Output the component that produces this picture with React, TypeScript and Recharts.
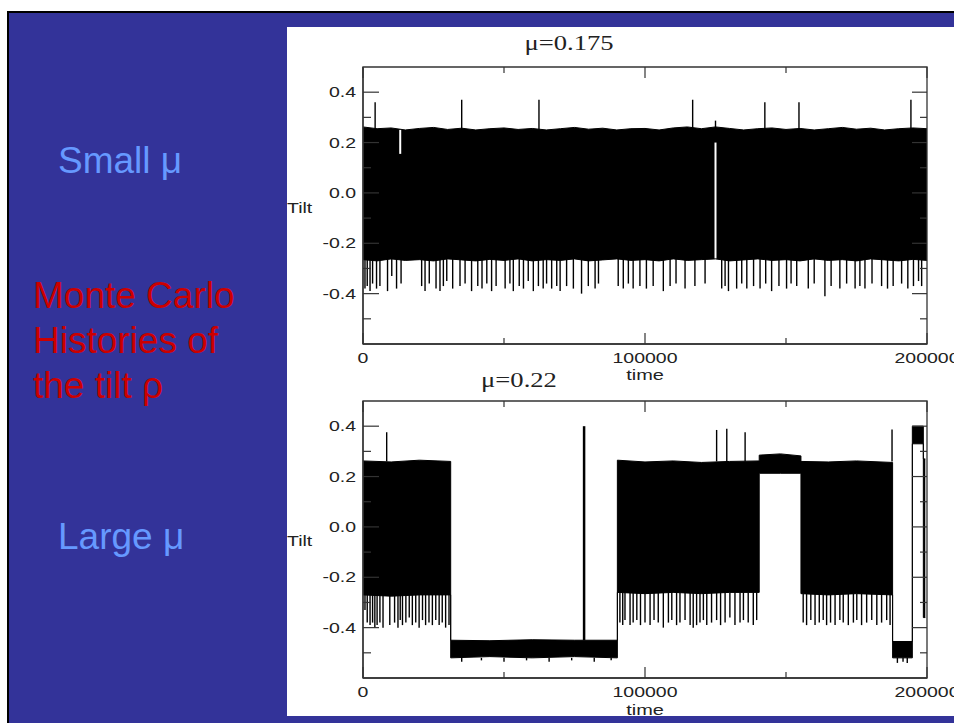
import { ComposedChart, Area, XAxis, YAxis, ReferenceLine, ReferenceArea } from "recharts";

const X_TICKS = [0, 50000, 100000, 150000, 200000];
const Y_TICKS = [-0.5, -0.4, -0.3, -0.2, -0.1, 0, 0.1, 0.2, 0.3, 0.4];

// mu = 0.175 : one state, fast oscillation between ~-0.27 and ~0.26
const smallT = [
  0, 5000, 10000, 15000, 20000, 25000, 30000, 35000, 40000, 45000, 50000, 55000, 60000, 65000,
  70000, 75000, 80000, 85000, 90000, 95000, 100000, 105000, 110000, 115000, 120000, 125000,
  130000, 135000, 140000, 145000, 150000, 155000, 160000, 165000, 170000, 175000, 180000,
  185000, 190000, 195000, 200000,
];
const smallHi = [
  0.262, 0.255, 0.258, 0.25, 0.256, 0.26, 0.252, 0.257, 0.25, 0.255, 0.258, 0.252, 0.256, 0.25,
  0.255, 0.26, 0.253, 0.257, 0.25, 0.255, 0.256, 0.25, 0.258, 0.262, 0.255, 0.262, 0.256, 0.25,
  0.255, 0.258, 0.252, 0.256, 0.25, 0.255, 0.26, 0.253, 0.257, 0.25, 0.255, 0.258, 0.255,
];
const smallLo = [
  -0.265, -0.27, -0.262, -0.268, -0.265, -0.27, -0.262, -0.266, -0.27, -0.264, -0.268, -0.262,
  -0.27, -0.265, -0.268, -0.262, -0.27, -0.266, -0.262, -0.268, -0.265, -0.27, -0.262, -0.268,
  -0.265, -0.262, -0.27, -0.266, -0.262, -0.268, -0.265, -0.27, -0.262, -0.268, -0.265, -0.27,
  -0.262, -0.266, -0.27, -0.264, -0.268,
];
// [time, from, to]
const smallSpikes = [
  [4300, 0.25, 0.36], [35000, 0.25, 0.37], [62400, 0.25, 0.37], [116900, 0.25, 0.37],
  [125000, 0.25, 0.287], [142500, 0.25, 0.36], [154600, 0.25, 0.36], [194300, 0.25, 0.37],
  [700, -0.26, -0.38], [1500, -0.26, -0.37], [2500, -0.26, -0.39], [3400, -0.26, -0.36],
  [4800, -0.26, -0.38], [6000, -0.26, -0.37], [8700, -0.26, -0.39], [10200, -0.26, -0.33],
  [11900, -0.26, -0.38], [13500, -0.26, -0.36], [20800, -0.26, -0.37], [22000, -0.26, -0.39],
  [23500, -0.26, -0.36], [25900, -0.26, -0.38], [27300, -0.26, -0.39], [28500, -0.26, -0.37],
  [29700, -0.26, -0.35], [31800, -0.26, -0.38], [34400, -0.26, -0.37], [36200, -0.26, -0.36],
  [38500, -0.26, -0.39], [40700, -0.26, -0.37], [42200, -0.26, -0.38], [43900, -0.26, -0.36],
  [45600, -0.26, -0.39], [47200, -0.26, -0.37], [50400, -0.26, -0.38], [52100, -0.26, -0.36],
  [53300, -0.26, -0.39], [55400, -0.26, -0.37], [56900, -0.26, -0.38], [58600, -0.26, -0.35],
  [60400, -0.26, -0.39], [62200, -0.26, -0.37], [63900, -0.26, -0.38], [65100, -0.26, -0.36],
  [66900, -0.26, -0.38], [68700, -0.26, -0.37], [69900, -0.26, -0.39], [72200, -0.26, -0.37],
  [74600, -0.26, -0.38], [77500, -0.26, -0.4], [79900, -0.26, -0.37], [82300, -0.26, -0.38],
  [83500, -0.26, -0.36], [90500, -0.26, -0.37], [92300, -0.26, -0.38], [94100, -0.26, -0.36],
  [95800, -0.26, -0.38], [98200, -0.26, -0.37], [100500, -0.26, -0.38], [102900, -0.26, -0.37],
  [106500, -0.26, -0.39], [108900, -0.26, -0.37], [111000, -0.26, -0.36], [114200, -0.26, -0.38],
  [117700, -0.26, -0.37], [121300, -0.26, -0.36], [127200, -0.26, -0.38], [128400, -0.26, -0.37],
  [129600, -0.26, -0.39], [132500, -0.26, -0.38], [134300, -0.26, -0.36], [136100, -0.26, -0.38],
  [138500, -0.26, -0.37], [140800, -0.26, -0.38], [142800, -0.26, -0.36], [144900, -0.26, -0.39],
  [147500, -0.26, -0.37], [150200, -0.26, -0.38], [151800, -0.26, -0.36], [153800, -0.26, -0.37],
  [157900, -0.26, -0.38], [160000, -0.26, -0.36], [163800, -0.26, -0.41], [166000, -0.26, -0.37],
  [169100, -0.26, -0.38], [171500, -0.26, -0.36], [174500, -0.26, -0.38], [176200, -0.26, -0.37],
  [178000, -0.26, -0.38], [180500, -0.26, -0.36], [183900, -0.26, -0.37], [186000, -0.26, -0.38],
  [188000, -0.26, -0.37], [191000, -0.26, -0.36], [193200, -0.26, -0.38], [195200, -0.26, -0.37],
  [197000, -0.26, -0.35], [198100, -0.26, -0.37],
];
// moments where the history skipped part of the band: [time, from, to]
const smallGaps = [
  [13200, 0.25, 0.155],
  [125000, 0.2, -0.26],
];

// mu = 0.22 : switching between tilted states
const largeT = [
  0, 10000, 20000, 31100, 31100, 45000, 60000, 75000, 90200, 90200, 100000, 110000, 120000,
  130000, 140500, 140500, 148000, 155300, 155300, 165000, 175000, 187800, 187800, 194800,
  194800, 198700, 198700, 199400,
];
const largeHi = [
  0.262, 0.258, 0.265, 0.26, -0.45, -0.452, -0.448, -0.45, -0.45, 0.265, 0.258, 0.262, 0.256,
  0.26, 0.262, 0.285, 0.29, 0.282, 0.26, 0.258, 0.262, 0.256, -0.455, -0.455, 0.4, 0.4, 0.27,
  0.27,
];
const largeLo = [
  -0.27, -0.275, -0.27, -0.27, -0.52, -0.515, -0.52, -0.515, -0.52, -0.26, -0.265, -0.26,
  -0.265, -0.26, -0.26, 0.213, 0.213, 0.213, -0.265, -0.27, -0.265, -0.27, -0.52, -0.52, 0.33,
  0.33, -0.36, -0.36,
];
const largeSpikes = [
  [8400, 0.26, 0.376], [78400, -0.45, 0.4], [125400, 0.26, 0.385], [129000, 0.26, 0.39],
  [135500, 0.26, 0.376], [187600, 0.26, 0.387],
  [700, -0.27, -0.33], [1500, -0.27, -0.38], [2500, -0.27, -0.39], [3400, -0.27, -0.38],
  [4200, -0.27, -0.4], [5000, -0.27, -0.39], [6000, -0.27, -0.38], [7100, -0.27, -0.4],
  [9500, -0.27, -0.39], [11200, -0.27, -0.38], [12400, -0.27, -0.4], [13200, -0.27, -0.37],
  [14000, -0.27, -0.39], [15200, -0.27, -0.38], [16400, -0.27, -0.36], [17500, -0.27, -0.39],
  [18700, -0.27, -0.38], [19900, -0.27, -0.4], [21100, -0.27, -0.37], [22200, -0.27, -0.39],
  [23400, -0.27, -0.38], [24600, -0.27, -0.39], [25800, -0.27, -0.37], [27000, -0.27, -0.39],
  [28100, -0.27, -0.38], [29300, -0.27, -0.4], [30500, -0.27, -0.39],
  [91100, -0.26, -0.38], [92100, -0.26, -0.39], [92900, -0.26, -0.37], [94700, -0.26, -0.39],
  [95800, -0.26, -0.38], [97100, -0.26, -0.37], [98400, -0.26, -0.39], [100000, -0.26, -0.38],
  [101800, -0.26, -0.39], [103200, -0.26, -0.37], [104700, -0.26, -0.38], [106500, -0.26, -0.4],
  [108300, -0.26, -0.38], [109500, -0.26, -0.37], [111200, -0.26, -0.39], [112400, -0.26, -0.38],
  [114200, -0.26, -0.37], [116000, -0.26, -0.39], [117100, -0.26, -0.4], [118300, -0.26, -0.39],
  [119500, -0.26, -0.38], [120700, -0.26, -0.37], [121900, -0.26, -0.39], [123600, -0.26, -0.38],
  [125400, -0.26, -0.37], [126800, -0.26, -0.39], [128400, -0.26, -0.38], [130100, -0.26, -0.36],
  [131900, -0.26, -0.39], [133700, -0.26, -0.38], [134900, -0.26, -0.37], [136600, -0.26, -0.38],
  [138400, -0.26, -0.39], [139600, -0.26, -0.37],
  [156100, -0.265, -0.38], [157300, -0.265, -0.39], [158800, -0.265, -0.37], [160300, -0.265, -0.39],
  [161800, -0.265, -0.38], [163200, -0.265, -0.37], [164400, -0.265, -0.39], [165800, -0.265, -0.38],
  [167400, -0.265, -0.39], [169100, -0.265, -0.37], [170300, -0.265, -0.38], [172100, -0.265, -0.39],
  [173900, -0.265, -0.38], [175100, -0.265, -0.37], [176800, -0.265, -0.39], [178600, -0.265, -0.38],
  [180400, -0.265, -0.37], [182200, -0.265, -0.39], [183900, -0.265, -0.38], [185700, -0.265, -0.37],
  [186900, -0.265, -0.39],
  [35000, -0.52, -0.535], [42000, -0.52, -0.53], [50000, -0.52, -0.535], [58000, -0.52, -0.53],
  [66000, -0.52, -0.535], [74000, -0.52, -0.53], [82000, -0.52, -0.535], [88000, -0.52, -0.53],
  [189500, -0.52, -0.54], [191500, -0.52, -0.535], [193000, -0.52, -0.54],
];
const largeGaps: number[][] = [];

const toRows = (t: number[], lo: number[], hi: number[]) =>
  t.map((v, i) => ({ t: v, band: [lo[i], hi[i]] }));

const PLOT_W = 564;
const PLOT_H = 277;
const AXIS = "#333";
const SANS = "'Liberation Sans', Arial, sans-serif";
const SERIF = "'Liberation Serif', 'Times New Roman', serif";

const XTick = (props: any) => {
  const { x, y, payload } = props;
  const v = payload.value;
  const major = v % 100000 === 0;
  const len = major ? 11 : 6;
  return (
    <g>
      <line x1={x} y1={y} x2={x} y2={y - len} stroke={AXIS} strokeWidth={1.2} />
      <line x1={x} y1={y - PLOT_H} x2={x} y2={y - PLOT_H + len} stroke={AXIS} strokeWidth={1.2} />
      {major && (
        <text
          transform={`translate(${x},${y + 14}) scale(1.3,1)`}
          textAnchor="middle"
          dominantBaseline="central"
          fontFamily={SANS}
          fontSize={15}
          fill="#222"
        >
          {v}
        </text>
      )}
    </g>
  );
};

const YTick = (props: any) => {
  const { x, y, payload } = props;
  const v = payload.value;
  const major = Math.round(v * 10) % 2 === 0;
  return (
    <g>
      <line x1={x} y1={y} x2={x + (major ? 16 : 8)} y2={y} stroke={AXIS} strokeWidth={1.2} />
      <line
        x1={x + PLOT_W}
        y1={y}
        x2={x + PLOT_W - (major ? 15 : 7)}
        y2={y}
        stroke={AXIS}
        strokeWidth={1.2}
      />
      {major && (
        <text
          transform={`translate(${x - 7},${y}) scale(1.3,1)`}
          textAnchor="end"
          dominantBaseline="central"
          fontFamily={SANS}
          fontSize={15}
          fill="#222"
        >
          {v.toFixed(1)}
        </text>
      )}
    </g>
  );
};

const History = ({ rows, spikes, gaps }: { rows: any[]; spikes: number[][]; gaps: number[][] }) => (
  <ComposedChart
    width={667}
    height={340}
    data={rows}
    margin={{ top: 40, right: 27, bottom: 22, left: 75 }}
  >
    <XAxis
      dataKey="t"
      type="number"
      domain={[0, 200000]}
      ticks={X_TICKS}
      interval={0}
      height={1}
      tickSize={0}
      tickMargin={0}
      tickLine={false}
      axisLine={{ stroke: AXIS, strokeWidth: 1.3 }}
      tick={XTick}
      allowDataOverflow
    />
    <YAxis
      type="number"
      domain={[-0.6, 0.5]}
      ticks={Y_TICKS}
      interval={0}
      width={1}
      tickSize={0}
      tickMargin={0}
      tickLine={false}
      axisLine={{ stroke: AXIS, strokeWidth: 1.3 }}
      tick={YTick}
      allowDataOverflow
    />
    <Area
      type="linear"
      dataKey="band"
      fill="#000"
      fillOpacity={1}
      stroke="#000"
      strokeWidth={1}
      dot={false}
      activeDot={false}
      isAnimationActive={false}
    />
    {spikes.map(([t, a, b], i) => (
      <ReferenceLine
        key={"s" + i}
        segment={[{ x: t, y: a }, { x: t, y: b }]}
        stroke="#000"
        strokeWidth={t === 78400 ? 2.5 : 1.4}
      />
    ))}
    {gaps.map(([t, a, b], i) => (
      <ReferenceLine
        key={"g" + i}
        segment={[{ x: t, y: a }, { x: t, y: b }]}
        stroke="#fff"
        strokeWidth={2}
      />
    ))}
    <ReferenceArea
      x1={0}
      x2={200000}
      y1={-0.6}
      y2={0.5}
      fill="none"
      fillOpacity={0}
      stroke={AXIS}
      strokeWidth={1.3}
    />
  </ComposedChart>
);

const abs = (left: number, top: number, extra: any = {}) => ({
  position: "absolute" as const,
  left,
  top,
  ...extra,
});

const centered = (x: number, y: number, font: string, size: number) =>
  abs(x, y, {
    fontFamily: font,
    fontSize: size,
    lineHeight: 1,
    whiteSpace: "nowrap",
    color: "#222",
    transform: "translate(-50%, -50%) scale(1.33, 1)",
  });

const tiltStyle = (top: number) =>
  abs(287, top, {
    fontFamily: SANS,
    fontSize: 15,
    lineHeight: 1,
    color: "#222",
    transform: "translateY(-50%) scale(1.3, 1)",
    transformOrigin: "left center",
  });

const App = () => {
  const sideText = {
    fontFamily: SANS,
    fontSize: 37,
    lineHeight: "45px",
    whiteSpace: "nowrap" as const,
  };
  return (
    <div style={abs(0, 0, { width: 954, height: 723, overflow: "hidden", background: "#fff" })}>
      <div style={abs(7, 11, { width: 947, height: 712, background: "#000" })} />
      <div style={abs(9, 13, { width: 945, height: 710, background: "#333399" })} />
      <div style={abs(287, 27, { width: 667, height: 689, background: "#fff" })} />

      <div style={abs(58, 138, { ...sideText, color: "#6699ff" })}>Small μ</div>
      <div style={abs(33, 273, { ...sideText, color: "#cc0000" })}>
        Monte Carlo
        <br />
        Histories of
        <br />
        the tilt ρ
      </div>
      <div style={abs(58, 514, { ...sideText, color: "#6699ff" })}>Large μ</div>

      <div style={abs(287, 27)}>
        <History rows={toRows(smallT, smallLo, smallHi)} spikes={smallSpikes} gaps={smallGaps} />
      </div>
      <div style={abs(287, 361)}>
        <History rows={toRows(largeT, largeLo, largeHi)} spikes={largeSpikes} gaps={largeGaps} />
      </div>

      <div style={centered(569, 43, SERIF, 20)}>μ=0.175</div>
      <div style={centered(519, 380, SERIF, 20)}>μ=0.22</div>
      <div style={tiltStyle(207)}>Tilt</div>
      <div style={tiltStyle(540)}>Tilt</div>
      <div style={centered(645, 374, SANS, 15)}>time</div>
      <div style={centered(645, 709, SANS, 15)}>time</div>
    </div>
  );
};

export default App;
